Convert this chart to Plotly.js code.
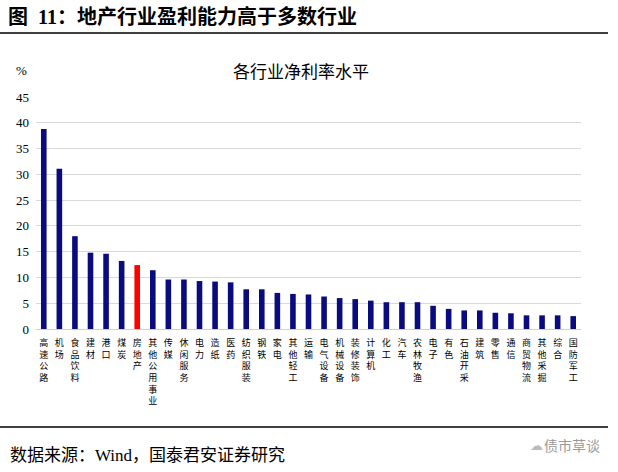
<!DOCTYPE html>
<html>
<head>
<meta charset="utf-8">
<script src="https://cdn.plot.ly/plotly-3.0.1.min.js"></script>
<style>
  html, body { margin: 0; padding: 0; background: #fff; }
  #chart { width: 618px; height: 472px; }
</style>
</head>
<body>
<div id="chart"></div>
<script>
const categories = ['高速公路','机场','食品饮料','建材','港口','煤炭','房地产','其他公用事业','传媒','休闲服务','电力','造纸','医药','纺织服装','钢铁','家电','其他轻工','运输','电气设备','机械设备','装修装饰','计算机','化工','汽车','农林牧渔','电子','有色','石油开采','建筑','零售','通信','商贸物流','其他采掘','综合','国防军工'];
const netMargin = [38.8,31.1,18.0,14.8,14.6,13.2,12.4,11.4,9.6,9.6,9.3,9.2,9.05,7.7,7.7,7.0,6.8,6.7,6.3,6.0,5.8,5.5,5.2,5.2,5.2,4.5,3.9,3.6,3.6,3.15,3.05,2.65,2.65,2.65,2.5];
const yTicks = [0,5,10,15,20,25,30,35,40,45];
const highlight = '房地产';

const W = 618, H = 472;
const L = 36, R = 581, T = 97, B = 329;
const px = x => (x - L) / (R - L);
const py = y => (B - y) / (B - T);

const CJK = 'Liberation Serif, Noto Sans CJK SC, serif';

const trace = {
  type: 'bar',
  x: categories,
  y: netMargin,
  marker: { color: categories.map(c => c === highlight ? '#ff0000' : '#0b0b80') },
  hoverinfo: 'x+y'
};

const layout = {
  width: W, height: H,
  margin: { l: L, r: W - R, t: T, b: H - B, pad: 0 },
  paper_bgcolor: '#ffffff',
  plot_bgcolor: '#ffffff',
  showlegend: false,
  bargap: 0.64,
  title: {
    text: '<b>图  11：地产行业盈利能力高于多数行业</b>',
    font: { family: CJK, size: 20, color: '#000' },
    x: 8 / W, xanchor: 'left', xref: 'container',
    y: 1 - 17 / H, yanchor: 'middle', yref: 'container'
  },
  xaxis: {
    tickmode: 'array',
    tickvals: categories,
    ticktext: categories.map(c => c.split('').join('<br>')),
    tickangle: 0,
    tickfont: { family: 'Noto Sans CJK SC', size: 9, color: '#000' },
    ticks: '',
    ticklabelstandoff: 5,
    showline: true, linecolor: '#d0d0d0', linewidth: 1,
    showgrid: false,
    fixedrange: true
  },
  yaxis: {
    range: [0, 45],
    tickmode: 'array',
    tickvals: yTicks,
    ticktext: yTicks.map(String),
    tickfont: { family: 'Liberation Serif, serif', size: 13, color: '#000' },
    ticks: '',
    showgrid: true, gridcolor: '#d9d9d9', gridwidth: 1,
    zeroline: false,
    showline: false,
    ticklabelstandoff: 6,
    fixedrange: true
  },
  shapes: [
    { type: 'line', xref: 'paper', yref: 'paper', x0: px(0), x1: px(608), y0: py(33), y1: py(33), line: { color: '#000', width: 1.5 } },
    { type: 'line', xref: 'paper', yref: 'paper', x0: px(0), x1: px(608), y0: py(427), y1: py(427), line: { color: '#000', width: 1.5 } }
  ],
  annotations: [
    { text: '各行业净利率水平', xref: 'paper', yref: 'paper', x: px(301), y: py(70), xanchor: 'center', yanchor: 'middle', showarrow: false, font: { family: 'Noto Sans CJK SC', size: 17, color: '#000' } },
    { text: '%', xref: 'paper', yref: 'paper', x: px(21), y: py(70), xanchor: 'center', yanchor: 'middle', showarrow: false, font: { family: 'Liberation Serif, serif', size: 13, color: '#000' } },
    { text: '数据来源：Wind，国泰君安证券研究', xref: 'paper', yref: 'paper', x: px(8), y: py(455), xanchor: 'left', yanchor: 'middle', showarrow: false, font: { family: CJK, size: 17, color: '#000' } },
    { text: '债市草谈', xref: 'paper', yref: 'paper', x: px(602), y: py(445), xanchor: 'right', yanchor: 'middle', showarrow: false, font: { family: 'Noto Sans CJK SC', size: 14, color: '#9a9a9a' } },
    { text: '☁', xref: 'paper', yref: 'paper', x: px(536), y: py(445), xanchor: 'center', yanchor: 'middle', showarrow: false, font: { family: 'DejaVu Sans', size: 13, color: '#bbbbbb' } }
  ]
};

Plotly.newPlot('chart', [trace], layout, { displayModeBar: false, staticPlot: true });
</script>
</body>
</html>
